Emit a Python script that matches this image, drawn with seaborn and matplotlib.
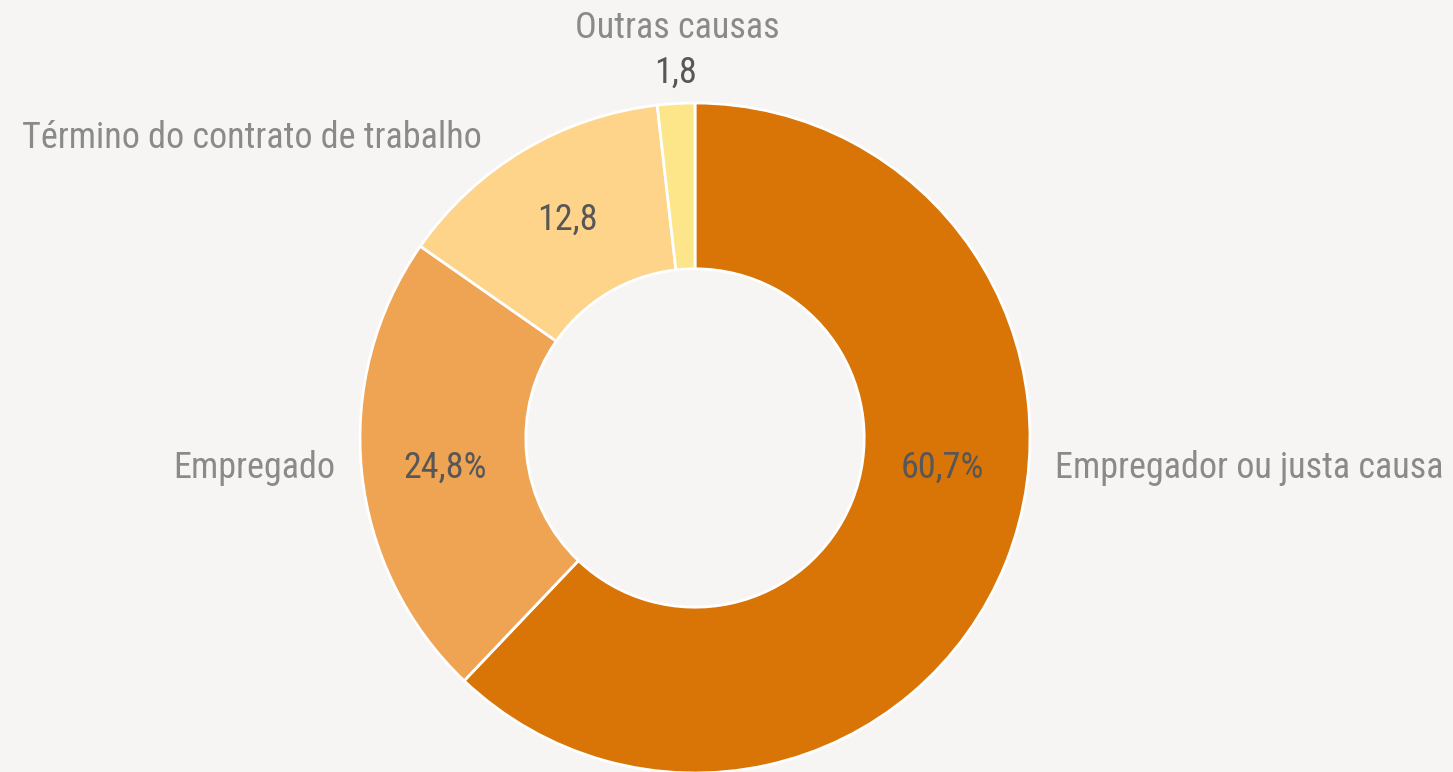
import matplotlib
matplotlib.use("Agg")
import matplotlib.pyplot as plt
import seaborn as sns

# motivos de desligamento (%)
categorias = ["Empregador ou justa causa", "Empregado",
              "Término do contrato de trabalho", "Outras causas"]
# fatias como aparecem desenhadas no gráfico original
valores = [62.1, 22.6, 13.5, 1.8]
rotulos_valor = ["60,7%", "24,8%", "12,8", "1,8"]
cores = ["#D97506", "#EFA454", "#FED48B", "#FDE68A"]

sns.set_style("white")
plt.rcParams["font.family"] = ["Roboto Condensed", "DejaVu Sans"]

bg = "#F6F5F3"
fig = plt.figure(figsize=(14.53, 7.72), dpi=100, facecolor=bg)
ax = fig.add_axes([0, 0, 1, 1])
ax.set_facecolor(bg)

wedges, _ = ax.pie(valores, colors=cores, startangle=90, counterclock=False,
                   radius=1.0, wedgeprops=dict(width=0.495, edgecolor="white", linewidth=2))

# eixo em unidades do raio: centro em (695, 438) px, raio 335 px
ax.set_xlim(-695 / 335, (1453 - 695) / 335)
ax.set_ylim(-(772 - 438) / 335, 438 / 335)
ax.set_aspect("auto")
ax.axis("off")

cinza = "#8A8A8A"
escuro = "#575757"
fs = 26

# rótulos das categorias
ax.text(1.075, -0.09, categorias[0], ha="left", va="center", fontsize=fs, color=cinza)
ax.text(-1.075, -0.09, categorias[1], ha="right", va="center", fontsize=fs, color=cinza)
ax.text(-0.636, 0.896, categorias[2], ha="right", va="center", fontsize=fs, color=cinza)
ax.text(-0.054, 1.224, categorias[3], ha="center", va="center", fontsize=fs, color=cinza)

# valores
ax.text(0.737, -0.09, rotulos_valor[0], ha="center", va="center", fontsize=fs, color=escuro)
ax.text(-0.746, -0.09, rotulos_valor[1], ha="center", va="center", fontsize=fs, color=escuro)
ax.text(-0.382, 0.651, rotulos_valor[2], ha="center", va="center", fontsize=fs, color=escuro)
ax.text(-0.057, 1.09, rotulos_valor[3], ha="center", va="center", fontsize=fs, color=escuro)

fig.savefig("out.png", facecolor=bg)
